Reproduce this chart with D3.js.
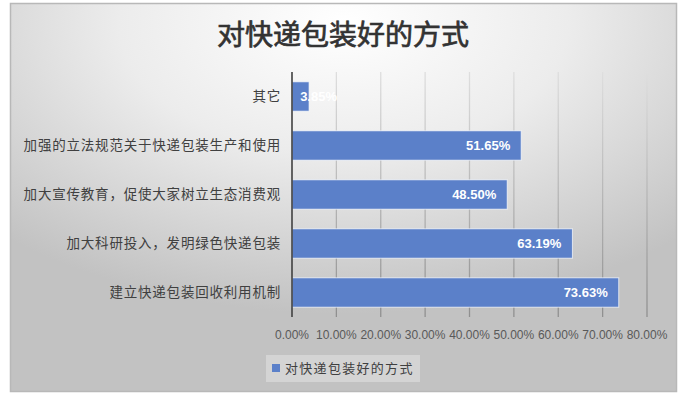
<!DOCTYPE html>
<html>
<head>
<meta charset="utf-8">
<script src="https://cdn.jsdelivr.net/npm/d3@7"></script>
<style>
  body { margin: 0; background: #fff; }
  text { font-family: "Liberation Sans", "Noto Sans CJK SC", sans-serif; }
  .cjk { font-family: "Noto Sans CJK SC", sans-serif; }
</style>
</head>
<body>
<svg id="canvas" width="696" height="400"></svg>
<script>
let title = '对快递包装好的方式'
let seriesName = '对快递包装好的方式'
let categories = ['其它', '加强的立法规范关于快递包装生产和使用', '加大宣传教育，促使大家树立生态消费观', '加大科研投入，发明绿色快递包装', '建立快递包装回收利用机制']
let values = [3.85, 51.65, 48.50, 63.19, 73.63]
let ticks = [0, 10, 20, 30, 40, 50, 60, 70, 80]

let svg = d3.select('#canvas')
let defs = svg.append('defs')

let bg = defs.append('radialGradient')
    .attr('id', 'bg')
    .attr('cx', '50%').attr('cy', '5%').attr('r', '75%')
bg.append('stop').attr('offset', '0%').attr('stop-color', '#ffffff')
bg.append('stop').attr('offset', '45%').attr('stop-color', '#ececec')
bg.append('stop').attr('offset', '100%').attr('stop-color', '#c2c2c2')

let gridGrad = defs.append('linearGradient')
    .attr('id', 'grid')
    .attr('gradientUnits', 'userSpaceOnUse')
    .attr('x1', 0).attr('y1', 72).attr('x2', 0).attr('y2', 317)
gridGrad.append('stop').attr('offset', '0%').attr('stop-color', '#dedede')
gridGrad.append('stop').attr('offset', '100%').attr('stop-color', '#8f8f8f')

// chart frame
svg.append('rect')
    .attr('x', 10.5).attr('y', 3.5)
    .attr('width', 666).attr('height', 388)
    .attr('fill', 'url(#bg)')
    .attr('stroke', '#b8b8b8')
    .attr('stroke-width', 1.5)

let x = d3.scaleLinear().domain([0, 80]).range([292, 647])
let y = d3.scaleBand().domain(categories).range([72, 317]).paddingInner(0.4).paddingOuter(0.2)

// title
svg.append('text')
    .attr('class', 'cjk')
    .attr('x', 343).attr('y', 45)
    .attr('text-anchor', 'middle')
    .attr('font-size', 28)
    .attr('fill', '#333333')
    .attr('stroke', '#333333')
    .attr('stroke-width', 0.7)
    .text(title)

// gridlines
svg.append('g')
    .selectAll('line')
    .data(ticks.slice(1))
    .enter()
    .append('line')
    .attr('x1', (d) => x(d)).attr('x2', (d) => x(d))
    .attr('y1', 72).attr('y2', 317)
    .attr('stroke', 'url(#grid)')
    .attr('stroke-width', 1.3)

// bars
svg.append('g')
    .selectAll('rect')
    .data(values)
    .enter()
    .append('rect')
    .attr('x', x(0))
    .attr('y', (d, i) => y(categories[i]))
    .attr('width', (d) => x(d) - x(0))
    .attr('height', y.bandwidth())
    .attr('fill', '#5b80c9')
    .attr('stroke', 'rgba(255,255,255,0.7)')
    .attr('stroke-width', 1)

// value labels
svg.append('g')
    .selectAll('text')
    .data(values)
    .enter()
    .append('text')
    .attr('x', (d) => Math.max(x(d) - 11, x(0) + 45))
    .attr('y', (d, i) => y(categories[i]) + y.bandwidth() / 2)
    .attr('dy', '0.36em')
    .attr('text-anchor', 'end')
    .attr('font-size', 13)
    .attr('font-weight', 'bold')
    .attr('fill', '#ffffff')
    .text((d) => d.toFixed(2) + '%')

// y axis line
svg.append('line')
    .attr('x1', x(0)).attr('x2', x(0))
    .attr('y1', 72).attr('y2', 317)
    .attr('stroke', '#404040')
    .attr('stroke-width', 1.6)

// category labels
svg.append('g')
    .selectAll('text')
    .data(categories)
    .enter()
    .append('text')
    .attr('class', 'cjk')
    .attr('x', 281)
    .attr('y', (d) => y(d) + y.bandwidth() / 2)
    .attr('dy', '0.36em')
    .attr('text-anchor', 'end')
    .attr('font-size', 13.5)
    .attr('letter-spacing', 0.8)
    .attr('fill', '#404040')
    .text((d) => d)

// tick labels
svg.append('g')
    .selectAll('text')
    .data(ticks)
    .enter()
    .append('text')
    .attr('x', (d) => x(d))
    .attr('y', 339)
    .attr('text-anchor', 'middle')
    .attr('font-size', 12)
    .attr('fill', '#595959')
    .text((d) => d.toFixed(2) + '%')

// legend
let legend = svg.append('g')
legend.append('rect')
    .attr('x', 266).attr('y', 355)
    .attr('width', 154).attr('height', 27)
    .attr('fill', 'rgba(255,255,255,0.3)')
legend.append('rect')
    .attr('x', 272).attr('y', 364)
    .attr('width', 8).attr('height', 8)
    .attr('fill', '#5b80c9')
legend.append('text')
    .attr('class', 'cjk')
    .attr('x', 285).attr('y', 368)
    .attr('dy', '0.36em')
    .attr('font-size', 13)
    .attr('letter-spacing', 1.3)
    .attr('fill', '#404040')
    .text(seriesName)
</script>
</body>
</html>
